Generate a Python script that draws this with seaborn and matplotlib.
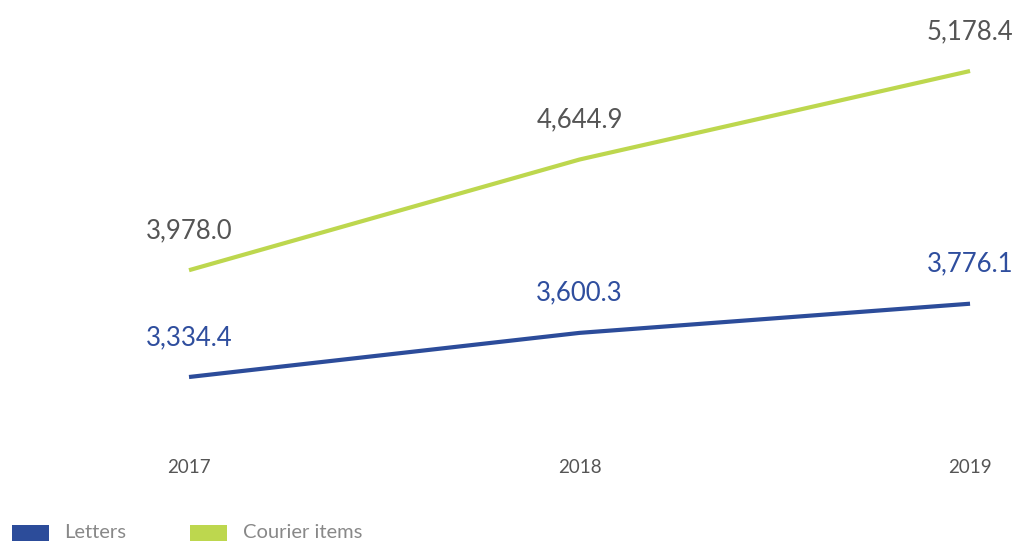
import matplotlib
matplotlib.use("Agg")
import matplotlib.pyplot as plt
from matplotlib.patches import Rectangle
import seaborn as sns
import pandas as pd

years = [2017, 2018, 2019]
letters = [3334.4, 3600.3, 3776.1]
courier = [3978.0, 4644.9, 5178.4]
series_names = ["Letters", "Courier items"]

blue = "#2C4C9A"
green = "#BDD74E"
label_colors = {"Letters": "#2F4E9E", "Courier items": "#555555"}

df = pd.DataFrame({
    "year": years * 2,
    "value": letters + courier,
    "series": [series_names[0]] * 3 + [series_names[1]] * 3,
})

sns.set_theme(style="white")
plt.rcParams["font.family"] = ["Lato", "DejaVu Sans"]

W, H = 1013, 542
fig = plt.figure(figsize=(W / 100, H / 100), dpi=100)
ax = fig.add_axes([0, (H - 445) / H, 1, 445 / H])

sns.lineplot(data=df, x="year", y="value", hue="series",
             palette={"Letters": blue, "Courier items": green},
             linewidth=3.0, legend=False, ax=ax)
for line in ax.lines:
    line.set_solid_capstyle("butt")

ax.set_xlim(2016.516, 2019.110)
ax.set_ylim(2924.7, 5606.2)

for name, vals in (("Letters", letters), ("Courier items", courier)):
    for x, v in zip(years, vals):
        ax.annotate(f"{v:,.1f}", (x, v), xytext=(0, 28.5), textcoords="offset points",
                    ha="center", va="center", fontsize=18.5, color=label_colors[name])

ax.set_xticks(years)
ax.set_xticklabels([str(y) for y in years], fontsize=13.5, color="#555555")
ax.tick_params(axis="x", length=0, pad=10)
ax.set_yticks([])
ax.set_xlabel("")
ax.set_ylabel("")
for s in ax.spines.values():
    s.set_visible(False)

# legend: colour swatches with labels along the bottom edge
legend_items = [(series_names[0], blue, 12, 64), (series_names[1], green, 190, 243)]
for name, col, px, tx in legend_items:
    fig.patches.append(Rectangle((px / W, (H - 541) / H), 37 / W, 16 / H,
                                 transform=fig.transFigure, facecolor=col,
                                 edgecolor="none"))
    fig.text(tx / W, (H - 533) / H, name, ha="left", va="center",
             fontsize=14.5, color="#888888")

fig.savefig("out.png", dpi=100)
